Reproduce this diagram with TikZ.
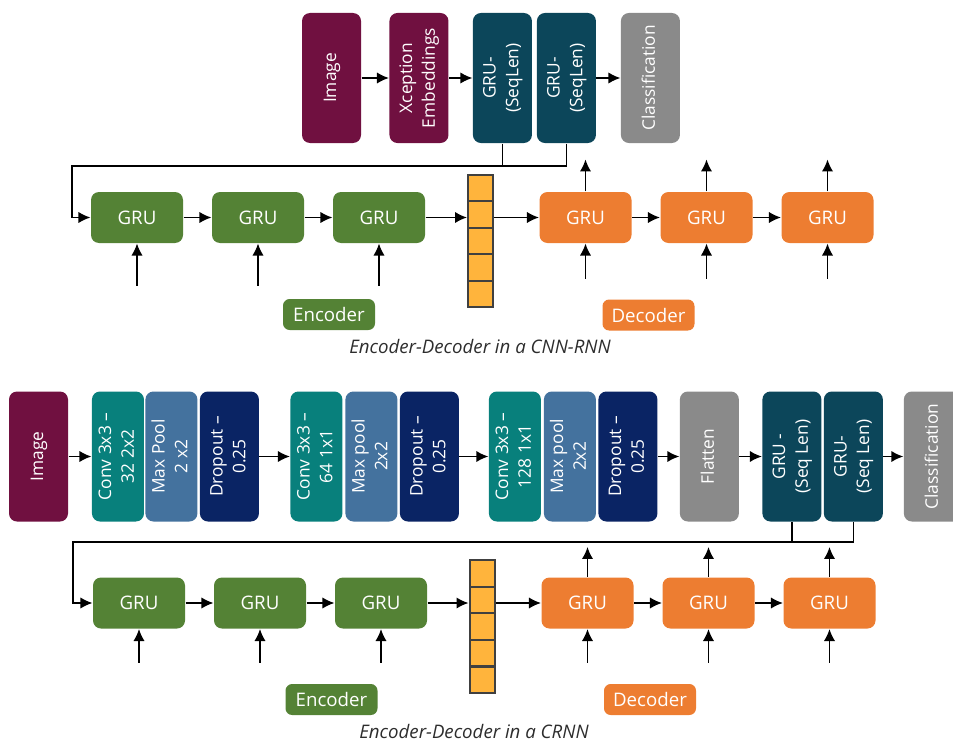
\documentclass[tikz,border=0pt]{standalone}
\usepackage{fontspec}
\setmainfont{Open Sans}
\usepackage{graphicx}
\usepackage{xcolor}
\usepackage{tikz}
\usetikzlibrary{arrows.meta}

\definecolor{imgred}{RGB}{112,16,64}
\definecolor{seqteal}{RGB}{12,70,90}
\definecolor{clsgray}{RGB}{138,138,138}
\definecolor{encgreen}{RGB}{84,130,53}
\definecolor{decorange}{RGB}{237,125,49}
\definecolor{vecyellow}{RGB}{255,180,60}
\definecolor{convteal}{RGB}{8,128,124}
\definecolor{poolblue}{RGB}{68,114,158}
\definecolor{dropnavy}{RGB}{10,36,100}
\definecolor{captext}{RGB}{45,45,45}

\newcommand{\vlabel}[1]{\rotatebox{90}{\begin{tabular}{@{}c@{}}#1\end{tabular}}}

\begin{document}
\begin{tikzpicture}[x=0.75pt, y=-0.75pt, node distance=90.75pt, thick]
        % Define styles
        \tikzstyle{tallbox} = [rectangle, rounded corners=6pt, text=white, minimum width=44.25pt, minimum height=97.5pt, inner sep=0pt, font=\fontsize{13}{17}\selectfont]
        \tikzstyle{thinbox} = [tallbox, minimum width=39pt]
        \tikzstyle{gru} = [rectangle, rounded corners=6pt, text=white, minimum width=69pt, minimum height=38.25pt, font=\fontsize{14}{16}\selectfont]
        \tikzstyle{tag} = [rectangle, rounded corners=5pt, text=white, minimum width=69pt, minimum height=23.25pt, font=\fontsize{14}{16}\selectfont]
        \tikzstyle{cell} = [rectangle, draw=black!75, fill=vecyellow, line width=1.5pt, minimum width=18.75pt, minimum height=19.8pt, inner sep=0pt]
        \tikzstyle{caption} = [font=\fontsize{14}{16}\selectfont\itshape, text=captext]
        \tikzstyle{arrow} = [-{Latex[length=9pt,width=8.5pt]}, very thick]
        \tikzstyle{inarrow} = [{Latex[length=9pt,width=8.5pt]}-, very thick]

        \useasboundingbox (0,0) rectangle (953,742);

        % CNN-RNN: nodes
        \node (img1) [tallbox, fill=imgred] at (331.5,78) {\vlabel{Image}};
        \node (xcp) [tallbox, fill=imgred, node distance=65.6pt, right of=img1] {\vlabel{Xception\\Embeddings}};
        \node (gruA) [tallbox, fill=seqteal, node distance=62.6pt, right of=xcp] {\vlabel{GRU-\\(SeqLen)}};
        \node (gruB) [tallbox, fill=seqteal, node distance=48pt, right of=gruA] {\vlabel{GRU-\\(SeqLen)}};
        \node (cls1) [tallbox, fill=clsgray, node distance=63pt, right of=gruB] {\vlabel{Classification}};

        \node (te1) [gru, fill=encgreen] at (137,217.5) {GRU};
        \node (te2) [gru, fill=encgreen, right of=te1] {GRU};
        \node (te3) [gru, fill=encgreen, right of=te2] {GRU};
        \foreach \i in {0,...,4}
            \node (tv\i) [cell] at (480.5,188.2+26.4*\i) {};
        \node (td1) [gru, fill=decorange] at (585.5,217.5) {GRU};
        \node (td2) [gru, fill=decorange, right of=td1] {GRU};
        \node (td3) [gru, fill=decorange, right of=td2] {GRU};

        \node (tenc) [tag, fill=encgreen] at (329,314.5) {Encoder};
        \node (tdec) [tag, fill=decorange] at (648.5,315) {Decoder};
        \node (tcap) [caption] at (480,346) {Encoder-Decoder in a CNN-RNN};

        % CNN-RNN: connections
        \draw [arrow] (img1) -- (xcp);
        \draw [arrow] (xcp) -- (gruA);
        \draw [arrow] (gruB) -- (cls1);
        \coordinate (tfb) at (72,166);
        \draw [very thick] (gruA.south) -- (gruA.south |- tfb);
        \draw [arrow] (gruB.south) |- (tfb) |- (te1.west);
        \draw [arrow] (te1) -- (te2);
        \draw [arrow] (te2) -- (te3);
        \draw [arrow] (te3.east) -- (te3.east -| tv0.west);
        \draw [arrow] (td1.west -| tv0.east) -- (td1.west);
        \draw [arrow] (td1) -- (td2);
        \draw [arrow] (td2) -- (td3);
        \foreach \n in {te1,te2,te3}
            \draw [inarrow] (\n.south) -- ++(0,42);
        \foreach \n in {td1,td2,td3} {
            \draw [inarrow] (\n.south) -- ++(0,35);
            \draw [arrow] (\n.north) -- ++(0,-32);
        }

        % CRNN: nodes
        \node (img2) [tallbox, fill=imgred] at (38.5,456.5) {\vlabel{Image}};
        \node (conv1) [thinbox, fill=convteal, node distance=59.6pt, right of=img2] {\vlabel{Conv 3x3 \textendash\\32 2x2}};
        \node (pool1) [thinbox, fill=poolblue, node distance=40.1pt, right of=conv1] {\vlabel{Max Pool\\2 x2}};
        \node (drop1) [tallbox, fill=dropnavy, node distance=43.5pt, right of=pool1] {\vlabel{Dropout \textendash\\0.25}};
        \node (conv2) [thinbox, fill=convteal, node distance=65.25pt, right of=drop1] {\vlabel{Conv 3x3 \textendash\\64 1x1}};
        \node (pool2) [thinbox, fill=poolblue, node distance=41.25pt, right of=conv2] {\vlabel{Max pool\\2x2}};
        \node (drop2) [tallbox, fill=dropnavy, node distance=43.5pt, right of=pool2] {\vlabel{Dropout \textendash\\0.25}};
        \node (conv3) [thinbox, fill=convteal, node distance=64.1pt, right of=drop2] {\vlabel{Conv 3x3 \textendash\\128 1x1}};
        \node (pool3) [thinbox, fill=poolblue, node distance=41.25pt, right of=conv3] {\vlabel{Max pool\\2x2}};
        \node (drop3) [tallbox, fill=dropnavy, node distance=43.5pt, right of=pool3] {\vlabel{Dropout \textendash\\0.25}};
        \node (flat) [tallbox, fill=clsgray, node distance=61.1pt, right of=drop3] {\vlabel{Flatten}};
        \node (sqA) [tallbox, fill=seqteal, node distance=61.9pt, right of=flat] {\vlabel{GRU -\\(Seq Len)}};
        \node (sqB) [tallbox, fill=seqteal, node distance=46.1pt, right of=sqA] {\vlabel{GRU-\\(Seq Len)}};
        \node (cls2) [tallbox, fill=clsgray, node distance=60pt, right of=sqB] {\vlabel{Classification}};

        \node (be1) [gru, fill=encgreen] at (139,603) {GRU};
        \node (be2) [gru, fill=encgreen, right of=be1] {GRU};
        \node (be3) [gru, fill=encgreen, right of=be2] {GRU};
        \foreach \i in {0,...,4}
            \node (bv\i) [cell] at (482,573.3+26.6*\i) {};
        \node (bd1) [gru, fill=decorange] at (587.5,603) {GRU};
        \node (bd2) [gru, fill=decorange, right of=bd1] {GRU};
        \node (bd3) [gru, fill=decorange, right of=bd2] {GRU};

        \node (benc) [tag, fill=encgreen] at (331.5,699.5) {Encoder};
        \node (bdec) [tag, fill=decorange] at (650,699.5) {Decoder};
        \node (bcap) [caption] at (474,731) {Encoder-Decoder in a CRNN};

        % CRNN: connections
        \draw [arrow] (img2) -- (conv1);
        \draw [arrow] (drop1) -- (conv2);
        \draw [arrow] (drop2) -- (conv3);
        \draw [arrow] (drop3) -- (flat);
        \draw [arrow] (flat) -- (sqA);
        \draw [arrow] (sqB) -- (cls2);
        \coordinate (bfb) at (73,542);
        \draw [very thick] (sqA.south) -- (sqA.south |- bfb);
        \draw [arrow] (sqB.south) |- (bfb) |- (be1.west);
        \draw [arrow] (be1) -- (be2);
        \draw [arrow] (be2) -- (be3);
        \draw [arrow] (be3.east) -- (be3.east -| bv1.west);
        \draw [arrow] (bd1.west -| bv1.east) -- (bd1.west);
        \draw [arrow] (bd1) -- (bd2);
        \draw [arrow] (bd2) -- (bd3);
        \foreach \n in {be1,be2,be3,bd1,bd2,bd3}
            \draw [inarrow] (\n.south) -- ++(0,34);
        \foreach \n in {bd1,bd2,bd3}
            \draw [arrow] (\n.north) -- ++(0,-30);

    \end{tikzpicture}
\end{document}
